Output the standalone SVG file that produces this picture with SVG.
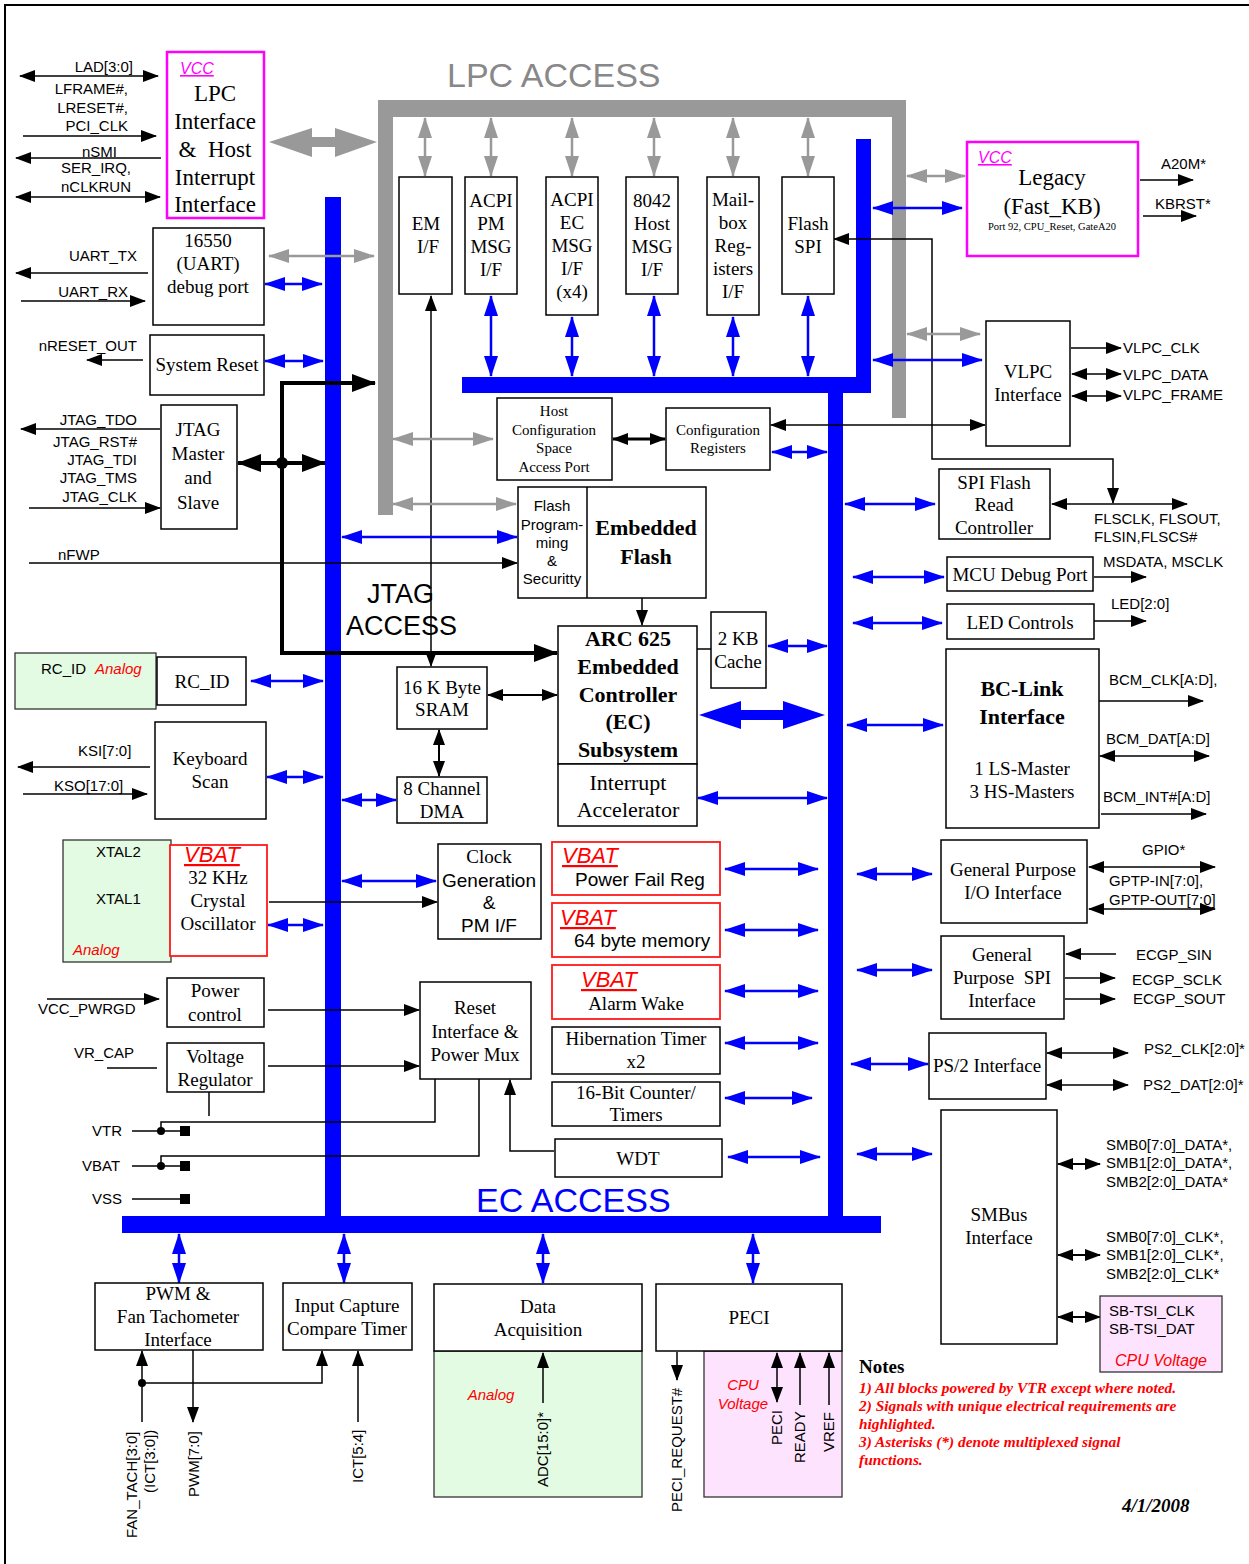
<svg xmlns="http://www.w3.org/2000/svg" width="1249" height="1564" viewBox="0 0 1249 1564">
<defs>
<style>
.box{fill:#fff;stroke:#000;stroke-width:1.5}
.mag{fill:#fff;stroke:#ff00ff;stroke-width:2.5}
.rbox{fill:#fff;stroke:#ff1a1a;stroke-width:1.8}
.grn{fill:#e3fbe3;stroke:#333;stroke-width:1.3}
.pnk{fill:#fde3fd;stroke:#333;stroke-width:1.3}
.t{font-family:"Liberation Serif","Times New Roman",serif;font-size:19px;text-anchor:middle;fill:#000}
.t15{font-size:15px}
.t23{font-size:23px}
.tb{font-family:"Liberation Serif","Times New Roman",serif;font-size:22px;font-weight:bold;text-anchor:middle;fill:#000}
.ts{font-family:"Liberation Sans",Arial,sans-serif;font-size:15px;fill:#000}
.s19{font-size:19px}
.tm{text-anchor:middle}
.te{text-anchor:end}
.vb{font-family:"Liberation Sans",Arial,sans-serif;font-size:22px;font-style:italic;fill:#ff0000;text-decoration:underline}
.vcc{font-family:"Liberation Sans",Arial,sans-serif;font-size:16px;font-style:italic;fill:#ff00ff;text-decoration:underline}
.an{font-family:"Liberation Sans",Arial,sans-serif;font-size:15px;font-style:italic;fill:#ff0000}
.big{font-family:"Liberation Sans",Arial,sans-serif;font-size:34px}
.note{font-family:"Liberation Serif","Times New Roman",serif;font-size:15.4px;font-weight:bold;font-style:italic;fill:#ff0000}
.k{stroke:#000;stroke-width:1.5;fill:none}
.kk{stroke:#000;stroke-width:4;fill:none}
.bu{stroke:#0000ff;stroke-width:2.5;fill:none}
.gy{stroke:#999;stroke-width:2.5;fill:none}
.ke{marker-end:url(#ak)}
.kd{marker-start:url(#ak);marker-end:url(#ak)}
.kkd{marker-start:url(#akk);marker-end:url(#akk)}
.bd{marker-start:url(#abu);marker-end:url(#abu)}
.gd{marker-start:url(#agy);marker-end:url(#agy)}
</style>
<marker id="ak" viewBox="0 0 16 12" markerWidth="16" markerHeight="12" refX="15" refY="6" orient="auto-start-reverse" markerUnits="userSpaceOnUse"><path d="M0,0 L16,6 L0,12 z" fill="#000"/></marker>
<marker id="akk" viewBox="0 0 24 18" markerWidth="24" markerHeight="18" refX="23" refY="9" orient="auto-start-reverse" markerUnits="userSpaceOnUse"><path d="M0,0 L24,9 L0,18 z" fill="#000"/></marker>
<marker id="abu" viewBox="0 0 21 14" markerWidth="21" markerHeight="14" refX="20" refY="7" orient="auto-start-reverse" markerUnits="userSpaceOnUse"><path d="M0,0 L21,7 L0,14 z" fill="#0000ff"/></marker>
<marker id="agy" viewBox="0 0 21 14" markerWidth="21" markerHeight="14" refX="20" refY="7" orient="auto-start-reverse" markerUnits="userSpaceOnUse"><path d="M0,0 L21,7 L0,14 z" fill="#999"/></marker>
</defs>

<rect width="1249" height="1564" fill="#fff"/>
<!-- page frame -->
<path d="M5,1564 V5 H1249" fill="none" stroke="#000" stroke-width="2"/>

<!-- bus bars -->
<g id="lpc-bus" fill="#999">
  <rect x="378" y="100" width="15" height="415"/>
  <rect x="378" y="100" width="528" height="17"/>
  <rect x="892" y="100" width="14" height="318"/>
</g>
<g id="ec-bus" fill="#0000ff">
  <rect x="325" y="197" width="16" height="1036"/>
  <rect x="122" y="1216" width="759" height="17"/>
  <rect x="828" y="377" width="15" height="856"/>
  <rect x="462" y="377" width="409" height="16"/>
  <rect x="856" y="139" width="15" height="254"/>
</g>
<text class="big" x="447" y="87" fill="#888">LPC ACCESS</text>
<text class="big" x="476" y="1212" fill="#0000ff">EC ACCESS</text>
<text class="ts" x="367" y="603" style="font-size:27px">JTAG</text>
<text class="ts" x="346" y="635" style="font-size:27px">ACCESS</text>

<!-- connectors -->
<g id="connectors">
  <!-- LPC host side -->
  <path class="k kd" d="M20,76 H158"/>
  <path class="k ke" d="M23,136 H156"/>
  <path class="k ke" d="M161,158 H16"/>
  <path class="k kd" d="M16,197 H160"/>
  <polygon points="269,142 312,128 312,137 335,137 335,128 377,142 335,157 335,147 312,147 312,157" fill="#999"/>
  <path class="k ke" d="M148,273 H16"/>
  <path class="k ke" d="M21,301 H145"/>
  <path class="gy gd" d="M269,256 H374"/>
  <path class="bu bd" d="M265,284 H322"/>
  <path class="k ke" d="M143,360 H87"/>
  <path class="bu bd" d="M265,361 H323"/>
  <!-- JTAG -->
  <path class="k ke" d="M160,429 H21"/>
  <path class="k ke" d="M29,508 H160"/>
  <path class="kk kkd" d="M238,463 H325"/>
  <circle cx="282" cy="463" r="6" fill="#000"/>
  <path class="kk kkd" d="M375,383 H282 V653 H557"/>
  <path class="k ke" d="M29,563 H517"/>
  <!-- LPC register blocks -->
  <path class="gy gd" d="M425,118 V176"/>
  <path class="gy gd" d="M491,118 V176"/>
  <path class="gy gd" d="M572,118 V176"/>
  <path class="gy gd" d="M654,118 V176"/>
  <path class="gy gd" d="M733,118 V176"/>
  <path class="gy gd" d="M808,118 V176"/>
  <path class="bu bd" d="M491,296 V376"/>
  <path class="bu bd" d="M572,317 V376"/>
  <path class="bu bd" d="M654,296 V376"/>
  <path class="bu bd" d="M733,317 V376"/>
  <path class="bu bd" d="M808,296 V376"/>
  <path class="k kd" d="M431,296 V666"/>
  <path class="k kd" d="M1113,503 V459 H932 V239 H834"/>
  <path class="gy gd" d="M907,176 H965"/>
  <path class="bu bd" d="M873,208 H962"/>
  <path class="k ke" d="M1140,180 H1193"/>
  <path class="k ke" d="M1143,216 H1196"/>
  <path class="gy gd" d="M907,334 H980"/>
  <path class="bu bd" d="M873,360 H982"/>
  <path class="k ke" d="M1071,348 H1121"/>
  <path class="k kd" d="M1072,374 H1121"/>
  <path class="k kd" d="M1072,396 H1121"/>
  <path class="k kd" d="M771,425 H985"/>
  <!-- host config / flash -->
  <path class="gy gd" d="M393,439 H493"/>
  <path class="gy gd" d="M393,504 H516"/>
  <path class="k kd" d="M613,439 H665" style="stroke-width:3"/>
  <path class="bu bd" d="M772,452 H827"/>
  <path class="bu bd" d="M342,537 H517"/>
  <path class="k ke" d="M642,570 V625"/>
  <!-- EC core -->
  <path class="k" d="M697,649 H711"/>
  <path class="bu bd" d="M768,646 H827"/>
  <polygon points="699,715 741,701 741,710 783,710 783,701 825,715 783,729 783,720 741,720 741,729" fill="#0000ff"/>
  <path class="bu bd" d="M698,798 H827"/>
  <path class="k kd" d="M488,695 H557" style="stroke-width:2"/>
  <path class="k kd" d="M439,730 V776" style="stroke-width:2"/>
  <path class="bu bd" d="M342,800 H396"/>
  <!-- left peripherals -->
  <path class="k ke" d="M42,681 H152"/>
  <path class="bu bd" d="M251,681 H323"/>
  <path class="k ke" d="M150,767 H18"/>
  <path class="k ke" d="M23,794 H147"/>
  <path class="bu bd" d="M267,777 H323"/>
  <path class="k kd" d="M114,868 H169"/>
  <path class="k ke" d="M113,916 H169"/>
  <path class="k ke" d="M269,902 H437"/>
  <path class="bu bd" d="M268,925 H323"/>
  <path class="bu bd" d="M342,881 H436"/>
  <!-- power -->
  <path class="k ke" d="M47,999 H159"/>
  <path class="k ke" d="M268,1010 H419"/>
  <path class="k" d="M107,1068 H157"/>
  <path class="k ke" d="M268,1066 H419"/>
  <path class="k" d="M209,1092 V1116"/>
  <path class="k" d="M132,1131 H185 M161,1131 V1122 H435 V1079"/>
  <path class="k" d="M132,1166 H185 M161,1166 V1156 H479 V1079"/>
  <path class="k" d="M132,1199 H185"/>
  <circle cx="161" cy="1131" r="4" fill="#000"/>
  <circle cx="161" cy="1166" r="4" fill="#000"/>
  <rect x="180" y="1126" width="10" height="10" fill="#000"/>
  <rect x="180" y="1161" width="10" height="10" fill="#000"/>
  <rect x="180" y="1194" width="10" height="10" fill="#000"/>
  <path class="k ke" d="M554,1151 H510 V1080"/>
  <!-- timers / VBAT blocks -->
  <path class="bu bd" d="M725,869 H818"/>
  <path class="bu bd" d="M725,930 H818"/>
  <path class="bu bd" d="M725,991 H818"/>
  <path class="bu bd" d="M725,1043 H818"/>
  <path class="bu bd" d="M725,1098 H812"/>
  <path class="bu bd" d="M728,1157 H820"/>
  <!-- right peripherals -->
  <path class="bu bd" d="M845,504 H935"/>
  <path class="k kd" d="M1052,504 H1187"/>
  <path class="bu bd" d="M853,577 H944"/>
  <path class="k ke" d="M1094,577 H1146"/>
  <path class="bu bd" d="M853,623 H942"/>
  <path class="k ke" d="M1094,621 H1146"/>
  <path class="bu bd" d="M847,725 H943"/>
  <path class="k ke" d="M1099,701 H1203"/>
  <path class="k kd" d="M1100,756 H1209"/>
  <path class="k ke" d="M1101,814 H1206"/>
  <path class="bu bd" d="M857,874 H932"/>
  <path class="k kd" d="M1089,867 H1215"/>
  <path class="k kd" d="M1089,909 H1215"/>
  <path class="bu bd" d="M857,970 H932"/>
  <path class="k ke" d="M1116,954 H1066"/>
  <path class="k ke" d="M1065,978 H1115"/>
  <path class="k ke" d="M1065,999 H1115"/>
  <path class="bu bd" d="M851,1064 H928"/>
  <path class="k kd" d="M1047,1053 H1128"/>
  <path class="k kd" d="M1047,1085 H1128"/>
  <path class="bu bd" d="M857,1154 H932"/>
  <path class="k kd" d="M1058,1164 H1100" style="stroke-width:2"/>
  <path class="k kd" d="M1058,1255 H1100" style="stroke-width:2"/>
  <path class="k kd" d="M1058,1317 H1100" style="stroke-width:2"/>
  <!-- bottom peripherals -->
  <path class="bu bd" d="M179,1234 V1283"/>
  <path class="bu bd" d="M344,1234 V1283"/>
  <path class="bu bd" d="M543,1234 V1283"/>
  <path class="bu bd" d="M753,1234 V1283"/>
  <path class="k ke" d="M142,1422 V1351"/>
  <path class="k ke" d="M142,1383 H322 V1351"/>
  <circle cx="142" cy="1383" r="4" fill="#000"/>
  <path class="k ke" d="M193,1350 V1422"/>
  <path class="k ke" d="M358,1422 V1351"/>
</g>

<!-- LPC interface -->
<g id="lpc-if">
  <rect class="mag" x="167" y="52" width="97" height="166"/>
  <text class="vcc" x="180" y="74">VCC</text>
  <text class="t t23" x="215" y="101">LPC</text>
  <text class="t t23" x="215" y="129">Interface</text>
  <text class="t t23" x="215" y="157" xml:space="preserve">&amp;  Host</text>
  <text class="t t23" x="215" y="185">Interrupt</text>
  <text class="t t23" x="215" y="212">Interface</text>
  <g class="ts te">
    <text x="133" y="72">LAD[3:0]</text>
    <text x="128" y="94">LFRAME#,</text>
    <text x="128" y="113">LRESET#,</text>
    <text x="128" y="131">PCI_CLK</text>
    <text x="117" y="157">nSMI</text>
    <text x="131" y="173">SER_IRQ,</text>
    <text x="131" y="192">nCLKRUN</text>
  </g>
</g>
<g id="uart">
  <rect class="box" x="153" y="228" width="111" height="97"/>
  <text class="t" x="208" y="247">16550</text>
  <text class="t" x="208" y="270">(UART)</text>
  <text class="t" x="208" y="293">debug port</text>
  <text class="ts te" x="137" y="261">UART_TX</text>
  <text class="ts te" x="128" y="297">UART_RX</text>
</g>
<g id="system-reset">
  <rect class="box" x="150" y="335" width="114" height="60"/>
  <text class="t" x="207" y="371">System Reset</text>
  <text class="ts te" x="137" y="351">nRESET_OUT</text>
</g>
<g id="jtag">
  <rect class="box" x="161" y="405" width="76" height="124"/>
  <text class="t" x="198" y="436">JTAG</text>
  <text class="t" x="198" y="460">Master</text>
  <text class="t" x="198" y="484">and</text>
  <text class="t" x="198" y="509">Slave</text>
  <g class="ts te">
    <text x="137" y="425">JTAG_TDO</text>
    <text x="137" y="447">JTAG_RST#</text>
    <text x="137" y="465">JTAG_TDI</text>
    <text x="137" y="483">JTAG_TMS</text>
    <text x="137" y="502">JTAG_CLK</text>
  </g>
  <text class="ts" x="58" y="560">nFWP</text>
</g>

<!-- LPC register blocks -->
<g id="em-if"><rect class="box" x="399" y="177" width="53" height="117"/>
  <text class="t" x="426" y="230">EM</text><text class="t" x="428" y="253">I/F</text></g>
<g id="acpi-pm"><rect class="box" x="465" y="177" width="52" height="117"/>
  <text class="t" x="491" y="207">ACPI</text><text class="t" x="491" y="230">PM</text><text class="t" x="491" y="253">MSG</text><text class="t" x="491" y="276">I/F</text></g>
<g id="acpi-ec"><rect class="box" x="546" y="177" width="52" height="138"/>
  <text class="t" x="572" y="206">ACPI</text><text class="t" x="572" y="229">EC</text><text class="t" x="572" y="252">MSG</text><text class="t" x="572" y="275">I/F</text><text class="t" x="572" y="298">(x4)</text></g>
<g id="host-8042"><rect class="box" x="626" y="177" width="52" height="117"/>
  <text class="t" x="652" y="207">8042</text><text class="t" x="652" y="230">Host</text><text class="t" x="652" y="253">MSG</text><text class="t" x="652" y="276">I/F</text></g>
<g id="mailbox"><rect class="box" x="707" y="177" width="52" height="138"/>
  <text class="t" x="733" y="206">Mail-</text><text class="t" x="733" y="229">box</text><text class="t" x="733" y="252">Reg-</text><text class="t" x="733" y="275">isters</text><text class="t" x="733" y="298">I/F</text></g>
<g id="flash-spi"><rect class="box" x="782" y="177" width="52" height="117"/>
  <text class="t" x="808" y="230">Flash</text><text class="t" x="808" y="253">SPI</text></g>

<g id="legacy">
  <rect class="mag" x="967" y="142" width="171" height="114"/>
  <text class="vcc" x="978" y="163">VCC</text>
  <text class="t t23" x="1052" y="185">Legacy</text>
  <text class="t t23" x="1052" y="214">(Fast_KB)</text>
  <text class="t" x="1052" y="230" style="font-size:10.5px">Port 92, CPU_Reset, GateA20</text>
  <text class="ts" x="1161" y="169">A20M*</text>
  <text class="ts" x="1155" y="209">KBRST*</text>
</g>
<g id="vlpc">
  <rect class="box" x="986" y="321" width="84" height="125"/>
  <text class="t" x="1028" y="378">VLPC</text>
  <text class="t" x="1028" y="401">Interface</text>
  <text class="ts" x="1123" y="353">VLPC_CLK</text>
  <text class="ts" x="1123" y="380">VLPC_DATA</text>
  <text class="ts" x="1123" y="400">VLPC_FRAME</text>
</g>

<g id="host-config">
  <rect class="box" x="497" y="398" width="115" height="82"/>
  <text class="t t15" x="554" y="416">Host</text>
  <text class="t t15" x="554" y="435">Configuration</text>
  <text class="t t15" x="554" y="453">Space</text>
  <text class="t t15" x="554" y="472">Access Port</text>
</g>
<g id="config-regs">
  <rect class="box" x="666" y="408" width="104" height="62"/>
  <text class="t t15" x="718" y="435">Configuration</text>
  <text class="t t15" x="718" y="453">Registers</text>
</g>
<g id="embedded-flash">
  <rect class="box" x="518" y="487" width="188" height="111"/>
  <path class="k" d="M587,487 V598"/>
  <g class="ts tm">
    <text x="552" y="511">Flash</text>
    <text x="552" y="530">Program-</text>
    <text x="552" y="548">ming</text>
    <text x="552" y="566">&amp;</text>
    <text x="552" y="584">Securitty</text>
  </g>
  <text class="tb" x="646" y="535">Embedded</text>
  <text class="tb" x="646" y="564">Flash</text>
</g>
<g id="arc-ec">
  <rect class="box" x="558" y="626" width="139" height="138"/>
  <text class="tb" x="628" y="646">ARC 625</text>
  <text class="tb" x="628" y="674">Embedded</text>
  <text class="tb" x="628" y="702">Controller</text>
  <text class="tb" x="628" y="729">(EC)</text>
  <text class="tb" x="628" y="757">Subsystem</text>
</g>
<g id="int-accel">
  <rect class="box" x="558" y="764" width="139" height="62"/>
  <text class="t" x="628" y="790" style="font-size:22px">Interrupt</text>
  <text class="t" x="628" y="817" style="font-size:22px">Accelerator</text>
</g>
<g id="cache">
  <rect class="box" x="711" y="612" width="55" height="76"/>
  <text class="t" x="738" y="645">2 KB</text>
  <text class="t" x="738" y="668">Cache</text>
</g>
<g id="sram">
  <rect class="box" x="397" y="667" width="90" height="62"/>
  <text class="t" x="442" y="694">16 K Byte</text>
  <text class="t" x="442" y="716">SRAM</text>
</g>
<g id="dma">
  <rect class="box" x="397" y="777" width="90" height="46"/>
  <text class="t" x="442" y="795">8 Channel</text>
  <text class="t" x="442" y="818">DMA</text>
</g>

<g id="rc-id">
  <rect class="grn" x="15" y="653" width="141" height="56"/>
  <text class="ts" x="41" y="674">RC_ID</text>
  <text class="an" x="95" y="674">Analog</text>
  <rect class="box" x="157" y="657" width="89" height="48"/>
  <text class="t" x="202" y="688">RC_ID</text>
</g>
<g id="keyboard">
  <rect class="box" x="155" y="722" width="111" height="97"/>
  <text class="t" x="210" y="765">Keyboard</text>
  <text class="t" x="210" y="788">Scan</text>
  <text class="ts" x="78" y="756">KSI[7:0]</text>
  <text class="ts" x="54" y="791">KSO[17:0]</text>
</g>
<g id="oscillator">
  <rect class="grn" x="63" y="840" width="108" height="122"/>
  <text class="ts" x="96" y="857">XTAL2</text>
  <text class="ts" x="96" y="904">XTAL1</text>
  <text class="an" x="73" y="955">Analog</text>
  <rect class="rbox" x="170" y="845" width="97" height="111"/>
  <text class="vb" x="184" y="862">VBAT</text>
  <text class="t" x="218" y="884">32 KHz</text>
  <text class="t" x="218" y="907">Crystal</text>
  <text class="t" x="218" y="930">Oscillator</text>
</g>
<g id="clock-gen">
  <rect class="box" x="438" y="844" width="103" height="95"/>
  <text class="t" x="489" y="863">Clock</text>
  <text class="ts tm s19" x="489" y="887">Generation</text>
  <text class="ts tm s19" x="489" y="909">&amp;</text>
  <text class="ts tm s19" x="489" y="932">PM I/F</text>
</g>
<g id="power-control">
  <rect class="box" x="167" y="978" width="97" height="49"/>
  <text class="t" x="215" y="997">Power</text>
  <text class="t" x="215" y="1021">control</text>
  <text class="ts" x="38" y="1014">VCC_PWRGD</text>
</g>
<g id="voltage-regulator">
  <rect class="box" x="167" y="1043" width="97" height="49"/>
  <text class="t" x="215" y="1063">Voltage</text>
  <text class="t" x="215" y="1086">Regulator</text>
  <text class="ts" x="74" y="1058">VR_CAP</text>
</g>
<g id="rails">
  <text class="ts" x="92" y="1136">VTR</text>
  <text class="ts" x="82" y="1171">VBAT</text>
  <text class="ts" x="92" y="1204">VSS</text>
</g>
<g id="reset-mux">
  <rect class="box" x="420" y="982" width="111" height="97"/>
  <text class="t" x="475" y="1014">Reset</text>
  <text class="t" x="475" y="1038">Interface &amp;</text>
  <text class="t" x="475" y="1061">Power Mux</text>
</g>

<g id="power-fail">
  <rect class="rbox" x="552" y="842" width="168" height="53"/>
  <text class="vb" x="562" y="863">VBAT</text>
  <text class="ts s19" x="575" y="886">Power Fail Reg</text>
</g>
<g id="battery-ram">
  <rect class="rbox" x="552" y="903" width="168" height="54"/>
  <text class="vb" x="560" y="925">VBAT</text>
  <text class="ts s19" x="574" y="947">64 byte memory</text>
</g>
<g id="alarm-wake">
  <rect class="rbox" x="552" y="965" width="168" height="54"/>
  <text class="vb" x="581" y="987">VBAT</text>
  <text class="t" x="636" y="1010">Alarm Wake</text>
</g>
<g id="hibernation">
  <rect class="box" x="552" y="1027" width="168" height="47"/>
  <text class="t" x="636" y="1045">Hibernation Timer</text>
  <text class="t" x="636" y="1068">x2</text>
</g>
<g id="counters">
  <rect class="box" x="552" y="1082" width="168" height="44"/>
  <text class="t" x="636" y="1099">16-Bit Counter/</text>
  <text class="t" x="636" y="1121">Timers</text>
</g>
<g id="wdt">
  <rect class="box" x="555" y="1139" width="167" height="38"/>
  <text class="t" x="638" y="1165">WDT</text>
</g>

<g id="spi-flash-read">
  <rect class="box" x="939" y="469" width="111" height="70"/>
  <text class="t" x="994" y="489">SPI Flash</text>
  <text class="t" x="994" y="511">Read</text>
  <text class="t" x="994" y="534">Controller</text>
  <text class="ts" x="1094" y="524">FLSCLK, FLSOUT,</text>
  <text class="ts" x="1094" y="542">FLSIN,FLSCS#</text>
</g>
<g id="mcu-debug">
  <rect class="box" x="947" y="557" width="146" height="34"/>
  <text class="t" x="1020" y="581">MCU Debug Port</text>
  <text class="ts" x="1103" y="567">MSDATA, MSCLK</text>
</g>
<g id="led">
  <rect class="box" x="947" y="604" width="147" height="35"/>
  <text class="t" x="1020" y="629">LED Controls</text>
  <text class="ts" x="1111" y="609">LED[2:0]</text>
</g>
<g id="bc-link">
  <rect class="box" x="946" y="649" width="153" height="179"/>
  <text class="tb" x="1022" y="696">BC-Link</text>
  <text class="tb" x="1022" y="724">Interface</text>
  <text class="t" x="1022" y="775">1 LS-Master</text>
  <text class="t" x="1022" y="798">3 HS-Masters</text>
  <text class="ts" x="1109" y="685">BCM_CLK[A:D],</text>
  <text class="ts" x="1106" y="744">BCM_DAT[A:D]</text>
  <text class="ts" x="1103" y="802">BCM_INT#[A:D]</text>
</g>
<g id="gpio">
  <rect class="box" x="941" y="840" width="146" height="83"/>
  <text class="t" x="1013" y="876">General Purpose</text>
  <text class="t" x="1013" y="899">I/O Interface</text>
  <text class="ts" x="1142" y="855">GPIO*</text>
  <text class="ts" x="1109" y="886">GPTP-IN[7:0],</text>
  <text class="ts" x="1109" y="905">GPTP-OUT[7:0]</text>
</g>
<g id="gp-spi">
  <rect class="box" x="941" y="936" width="123" height="83"/>
  <text class="t" x="1002" y="961">General</text>
  <text class="t" x="1002" y="984" xml:space="preserve">Purpose  SPI</text>
  <text class="t" x="1002" y="1007">Interface</text>
  <text class="ts" x="1136" y="960">ECGP_SIN</text>
  <text class="ts" x="1132" y="985">ECGP_SCLK</text>
  <text class="ts" x="1133" y="1004">ECGP_SOUT</text>
</g>
<g id="ps2">
  <rect class="box" x="929" y="1033" width="117" height="66"/>
  <text class="t" x="987" y="1072">PS/2 Interface</text>
  <text class="ts" x="1144" y="1054">PS2_CLK[2:0]*</text>
  <text class="ts" x="1143" y="1090">PS2_DAT[2:0]*</text>
</g>
<g id="smbus">
  <rect class="box" x="941" y="1110" width="116" height="234"/>
  <text class="t" x="999" y="1221">SMBus</text>
  <text class="t" x="999" y="1244">Interface</text>
  <text class="ts" x="1106" y="1150">SMB0[7:0]_DATA*,</text>
  <text class="ts" x="1106" y="1168">SMB1[2:0]_DATA*,</text>
  <text class="ts" x="1106" y="1187">SMB2[2:0]_DATA*</text>
  <text class="ts" x="1106" y="1242">SMB0[7:0]_CLK*,</text>
  <text class="ts" x="1106" y="1260">SMB1[2:0]_CLK*,</text>
  <text class="ts" x="1106" y="1279">SMB2[2:0]_CLK*</text>
</g>
<g id="sb-tsi">
  <rect class="pnk" x="1100" y="1296" width="122" height="76"/>
  <text class="ts" x="1109" y="1316">SB-TSI_CLK</text>
  <text class="ts" x="1109" y="1334">SB-TSI_DAT</text>
  <text class="an tm" x="1161" y="1366" style="font-size:16px">CPU Voltage</text>
</g>

<g id="pwm-fan">
  <rect class="box" x="95" y="1283" width="168" height="67"/>
  <text class="t" x="178" y="1300">PWM &amp;</text>
  <text class="t" x="178" y="1323">Fan Tachometer</text>
  <text class="t" x="178" y="1346">Interface</text>
  <text class="ts" transform="translate(137,1538) rotate(-90)">FAN_TACH[3:0]</text>
  <text class="ts" transform="translate(155,1493) rotate(-90)">(ICT[3:0])</text>
  <text class="ts" transform="translate(199,1497) rotate(-90)">PWM[7:0]</text>
</g>
<g id="input-capture">
  <rect class="box" x="283" y="1283" width="129" height="67"/>
  <text class="t" x="347" y="1312">Input Capture</text>
  <text class="t" x="347" y="1335">Compare Timer</text>
  <text class="ts" transform="translate(363,1483) rotate(-90)">ICT[5:4]</text>
</g>
<g id="data-acq">
  <rect class="grn" x="434" y="1351" width="208" height="146"/>
  <rect class="box" x="434" y="1284" width="208" height="67"/>
  <text class="t" x="538" y="1313">Data</text>
  <text class="t" x="538" y="1336">Acquisition</text>
  <text class="an tm" x="491" y="1400">Analog</text>
  <path class="k ke" d="M543,1403 V1353"/>
  <text class="ts" transform="translate(548,1487) rotate(-90)">ADC[15:0]*</text>
</g>
<g id="peci">
  <rect class="pnk" x="704" y="1351" width="138" height="146"/>
  <rect class="box" x="656" y="1284" width="186" height="67"/>
  <text class="t" x="749" y="1324">PECI</text>
  <text class="an tm" x="743" y="1390">CPU</text>
  <text class="an tm" x="743" y="1409">Voltage</text>
  <path class="k ke" d="M677,1352 V1380"/>
  <path class="k kd" d="M777,1353 V1402"/>
  <path class="k ke" d="M800,1405 V1353"/>
  <path class="k ke" d="M829,1405 V1353"/>
  <text class="ts" transform="translate(682,1512) rotate(-90)">PECI_REQUEST#</text>
  <text class="ts" transform="translate(782,1445) rotate(-90)">PECI</text>
  <text class="ts" transform="translate(805,1463) rotate(-90)">READY</text>
  <text class="ts" transform="translate(834,1452) rotate(-90)">VREF</text>
</g>

<g id="notes">
  <text x="859" y="1373" style="font-family:'Liberation Serif',serif;font-size:19px;font-weight:bold">Notes</text>
  <text class="note" x="859" y="1393">1) All blocks powered by VTR except where noted.</text>
  <text class="note" x="859" y="1411">2) Signals with unique electrical requirements are</text>
  <text class="note" x="859" y="1429">highlighted.</text>
  <text class="note" x="859" y="1447">3) Asterisks (*) denote multiplexed signal</text>
  <text class="note" x="859" y="1465">functions.</text>
  <text x="1122" y="1512" style="font-family:'Liberation Serif',serif;font-size:19px;font-weight:bold;font-style:italic">4/1/2008</text>
</g>
</svg>
